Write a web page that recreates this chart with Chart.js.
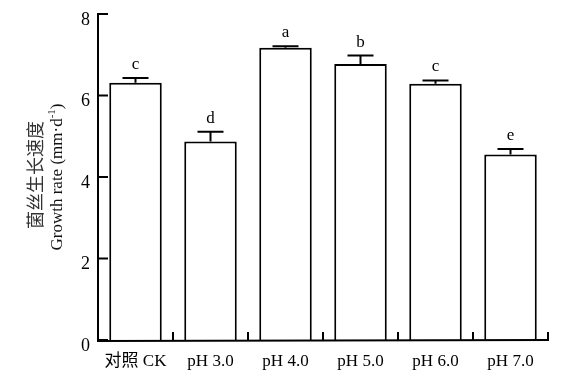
<!DOCTYPE html>
<html>
<head>
<meta charset="utf-8">
<script src="https://cdn.jsdelivr.net/npm/chart.js@4/dist/chart.umd.min.js"></script>
<style>
html,body{margin:0;padding:0;background:#fff;}
#wrap{width:572px;height:392px;}
</style>
</head>
<body>
<div id="wrap"><canvas id="c" width="572" height="392"></canvas></div>
<script>
const categories = ['对照 CK', 'pH 3.0', 'pH 4.0', 'pH 5.0', 'pH 6.0', 'pH 7.0'];
const growthRate = [6.31, 4.87, 7.17, 6.77, 6.29, 4.55];
const errorSE = [0.12, 0.24, 0.04, 0.21, 0.08, 0.14];
const sigLetters = ['c', 'd', 'a', 'b', 'c', 'e'];
const yMin = 0, yMax = 8, yStep = 2;
const titleCN = '菌丝生长速度';
const titleEN = 'Growth rate (mm·d';
const titleSup = '-1';
const titleEnd = ')';

const SERIF = "'Liberation Serif', 'Times New Roman', 'Noto Sans CJK SC', serif";

const decor = {
  id: 'decor',
  afterDatasetsDraw(chart) {
    const ctx = chart.ctx;
    const xs = chart.scales.x, ys = chart.scales.y;
    const L = xs.left, R = xs.right, B = ys.bottom, T = ys.top;
    ctx.save();
    ctx.strokeStyle = '#000';
    ctx.fillStyle = '#000';
    ctx.lineWidth = 2;
    const meta = chart.getDatasetMeta(0);
    meta.data.forEach((bar, i) => {
      const cx = bar.x;
      const yTop = ys.getPixelForValue(growthRate[i]);
      const yErr = ys.getPixelForValue(growthRate[i] + errorSE[i]);
      ctx.beginPath();
      ctx.moveTo(cx, yTop);
      ctx.lineTo(cx, yErr);
      ctx.moveTo(cx - 13, yErr);
      ctx.lineTo(cx + 13, yErr);
      ctx.stroke();
      ctx.font = '17px ' + SERIF;
      ctx.textAlign = 'center';
      ctx.textBaseline = 'alphabetic';
      ctx.fillText(sigLetters[i], cx, yErr - 9);
    });
    ctx.lineWidth = 2;
    ctx.beginPath();
    ctx.moveTo(L, T - 1);
    ctx.lineTo(L, B + 1);
    ctx.lineTo(R + 1, B);
    ctx.stroke();
    ys.ticks.forEach(t => {
      const py = ys.getPixelForValue(t.value);
      ctx.beginPath();
      ctx.moveTo(L, py);
      ctx.lineTo(L + 10, py);
      ctx.stroke();
    });
    for (let i = 0; i < categories.length; i++) {
      let bx;
      if (i < categories.length - 1) bx = (xs.getPixelForValue(i) + xs.getPixelForValue(i + 1)) / 2;
      else bx = R;
      ctx.beginPath();
      ctx.moveTo(bx, B);
      ctx.lineTo(bx, B - 8);
      ctx.stroke();
    }
    const midY = (T + B) / 2;
    ctx.translate(0, midY);
    ctx.rotate(-Math.PI / 2);
    ctx.textAlign = 'center';
    ctx.textBaseline = 'middle';
    ctx.fillStyle = '#333';
    ctx.font = "18px 'Noto Sans CJK SC', sans-serif";
    ctx.fillText(titleCN, 2, 35);
    ctx.fillStyle = '#111';
    const f = '17px ' + SERIF;
    const fs = '11px ' + SERIF;
    ctx.font = f;
    const w1 = ctx.measureText(titleEN).width;
    const w3 = ctx.measureText(titleEnd).width;
    ctx.font = fs;
    const w2 = ctx.measureText(titleSup).width;
    const total = w1 + w2 + w3;
    let x0 = -total / 2;
    ctx.textAlign = 'left';
    ctx.font = f;
    ctx.fillText(titleEN, x0, 58);
    ctx.font = fs;
    ctx.fillText(titleSup, x0 + w1, 52);
    ctx.font = f;
    ctx.fillText(titleEnd, x0 + w1 + w2, 58);
    ctx.restore();
  }
};

new Chart(document.getElementById('c'), {
  type: 'bar',
  data: {
    labels: categories,
    datasets: [{
      data: growthRate,
      backgroundColor: '#fff',
      borderColor: '#000',
      borderWidth: 2,
      categoryPercentage: 1,
      barPercentage: 0.7
    }]
  },
  options: {
    responsive: false,
    animation: false,
    devicePixelRatio: 1,
    layout: { padding: { left: 0, right: 24, top: 14, bottom: 0 } },
    plugins: { legend: { display: false }, tooltip: { enabled: false } },
    scales: {
      x: {
        grid: { display: false, drawTicks: false },
        border: { display: false },
        ticks: { color: '#000', font: { family: SERIF, size: 17 }, padding: 11, maxRotation: 0, autoSkip: false },
        afterFit(s) { s.height = 52; s.paddingLeft = 0; s.paddingRight = 0; }
      },
      y: {
        min: yMin, max: yMax,
        grid: { display: false, drawTicks: false },
        border: { display: false },
        ticks: { stepSize: yStep, color: '#000', font: { family: SERIF, size: 18 }, padding: 8, labelOffset: 6 },
        afterFit(s) { s.width = 98; s.paddingTop = 0; s.paddingBottom = 0; }
      }
    }
  },
  plugins: [decor]
});
</script>
</body>
</html>
